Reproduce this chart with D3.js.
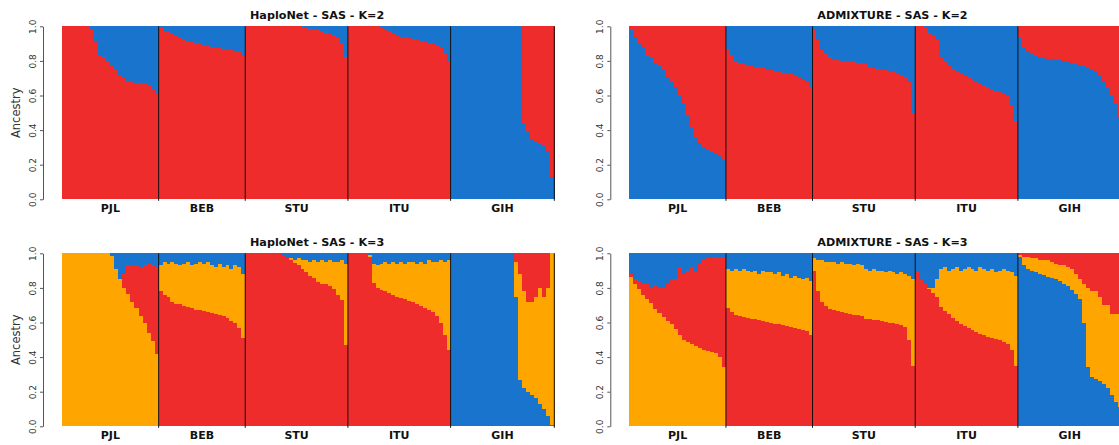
<!DOCTYPE html>
<html>
<head>
<meta charset="utf-8">
<script src="https://cdn.jsdelivr.net/npm/d3@7"></script>
<style>
  body { margin: 0; background: #fff; }
  text { font-family: "DejaVu Sans", sans-serif; }
</style>
</head>
<body>
<div id="chart"></div>
<script>
// populations and sample sizes (1000G SAS)
const pops = ["PJL", "BEB", "STU", "ITU", "GIH"];
const popSizes = [96, 86, 102, 102, 103];

const colors = { red: "#EE2C2C", blue: "#1874CD", orange: "#FFA500" };

// stacking order per population (bottom -> top)
const hapK2Order = [["red", "blue"], ["red", "blue"], ["red", "blue"], ["red", "blue"], ["blue", "red"]];
const admK2Order = [["blue", "red"], ["red", "blue"], ["red", "blue"], ["red", "blue"], ["blue", "red"]];
const k3Order = [["orange", "red", "blue"], ["red", "orange", "blue"], ["red", "orange", "blue"],
                 ["red", "orange", "blue"], ["blue", "orange", "red"]];

// ancestry of the bottom cluster (one value per group of ~4 individuals)
const hapK2Lower = [
  [1, 1, 1, 1, 1, 1, 1, 0.98, 0.91, 0.83, 0.82, 0.8, 0.77, 0.745, 0.72, 0.7, 0.685, 0.68, 0.675, 0.67, 0.665, 0.66, 0.64, 0.61],
  [0.99, 0.975, 0.965, 0.955, 0.945, 0.935, 0.925, 0.915, 0.91, 0.905, 0.9, 0.89, 0.885, 0.88, 0.877, 0.873, 0.87, 0.865, 0.862, 0.858, 0.852, 0.83],
  [1, 1, 1, 1, 1, 1, 1, 1, 1, 1, 1, 1, 1, 1, 0.995, 0.99, 0.987, 0.983, 0.978, 0.972, 0.962, 0.958, 0.95, 0.935, 0.905, 0.82],
  [1, 1, 1, 1, 1, 1, 1, 1, 0.99, 0.98, 0.97, 0.958, 0.945, 0.937, 0.932, 0.93, 0.927, 0.922, 0.917, 0.91, 0.905, 0.9, 0.893, 0.88, 0.845, 0.8],
  [1, 1, 1, 1, 1, 1, 1, 1, 1, 1, 1, 1, 1, 1, 1, 1, 1, 1, 0.44, 0.39, 0.35, 0.33, 0.32, 0.31, 0.28, 0.13]
];

const admK2Lower = [
  [0.98, 0.94, 0.905, 0.88, 0.83, 0.815, 0.79, 0.77, 0.746, 0.705, 0.68, 0.65, 0.6, 0.55, 0.49, 0.42, 0.355, 0.325, 0.3, 0.283, 0.272, 0.26, 0.248, 0.227],
  [0.87, 0.835, 0.795, 0.785, 0.78, 0.776, 0.772, 0.767, 0.762, 0.757, 0.75, 0.745, 0.74, 0.735, 0.731, 0.727, 0.722, 0.712, 0.703, 0.692, 0.68, 0.65],
  [0.98, 0.92, 0.865, 0.842, 0.82, 0.81, 0.803, 0.8, 0.8, 0.797, 0.795, 0.79, 0.786, 0.78, 0.767, 0.76, 0.755, 0.75, 0.745, 0.742, 0.735, 0.725, 0.718, 0.705, 0.68, 0.5],
  [1, 1, 0.995, 0.96, 0.945, 0.92, 0.82, 0.797, 0.775, 0.752, 0.737, 0.722, 0.715, 0.705, 0.692, 0.68, 0.668, 0.658, 0.65, 0.632, 0.625, 0.62, 0.61, 0.595, 0.54, 0.45],
  [0.93, 0.875, 0.855, 0.84, 0.83, 0.825, 0.82, 0.813, 0.81, 0.807, 0.803, 0.8, 0.797, 0.79, 0.783, 0.776, 0.77, 0.76, 0.75, 0.74, 0.72, 0.685, 0.645, 0.6, 0.555, 0.47]
];

const hapK3Lower = [
  [1, 1, 1, 1, 1, 1, 1, 1, 1, 1, 1, 1, 0.985, 0.91, 0.85, 0.8, 0.765, 0.72, 0.685, 0.64, 0.595, 0.54, 0.495, 0.42],
  [0.78, 0.757, 0.745, 0.72, 0.708, 0.705, 0.695, 0.69, 0.682, 0.675, 0.67, 0.665, 0.66, 0.653, 0.648, 0.643, 0.635, 0.625, 0.61, 0.595, 0.57, 0.51],
  [1, 1, 1, 1, 1, 1, 1, 1, 0.995, 0.985, 0.975, 0.96, 0.945, 0.93, 0.91, 0.89, 0.87, 0.855, 0.835, 0.823, 0.82, 0.81, 0.795, 0.76, 0.73, 0.47],
  [1, 1, 1, 1, 1, 0.98, 0.83, 0.8, 0.79, 0.78, 0.77, 0.758, 0.748, 0.74, 0.733, 0.722, 0.716, 0.707, 0.695, 0.685, 0.672, 0.66, 0.64, 0.6, 0.527, 0.44],
  [1, 1, 1, 1, 1, 1, 1, 1, 1, 1, 1, 1, 1, 1, 1, 1, 0.75, 0.27, 0.22, 0.2, 0.18, 0.165, 0.13, 0.1, 0.06, 0.01]
];
// ancestry of the top cluster (K=3)
const hapK3Upper = [
  [0, 0, 0, 0, 0, 0, 0, 0, 0, 0, 0, 0, 0.015, 0.09, 0.15, 0.12, 0.07, 0.07, 0.07, 0.08, 0.07, 0.06, 0.07, 0.08],
  [0.07, 0.05, 0.06, 0.05, 0.06, 0.07, 0.06, 0.05, 0.07, 0.06, 0.05, 0.06, 0.05, 0.07, 0.08, 0.06, 0.08, 0.07, 0.09, 0.07, 0.08, 0.12],
  [0, 0, 0, 0, 0, 0, 0, 0, 0.005, 0.02, 0.03, 0.03, 0.04, 0.03, 0.04, 0.04, 0.05, 0.04, 0.05, 0.04, 0.05, 0.04, 0.05, 0.05, 0.04, 0.06],
  [0, 0, 0, 0, 0, 0.01, 0.06, 0.07, 0.06, 0.05, 0.06, 0.05, 0.06, 0.05, 0.06, 0.05, 0.05, 0.06, 0.05, 0.06, 0.04, 0.05, 0.05, 0.04, 0.05, 0.04],
  [0, 0, 0, 0, 0, 0, 0, 0, 0, 0, 0, 0, 0, 0, 0, 0, 0.05, 0.12, 0.22, 0.28, 0.28, 0.25, 0.2, 0.25, 0.2, 0]
];

const admK3Lower = [
  [0.865, 0.825, 0.795, 0.76, 0.737, 0.715, 0.68, 0.657, 0.633, 0.61, 0.592, 0.565, 0.525, 0.498, 0.486, 0.476, 0.465, 0.452, 0.443, 0.437, 0.431, 0.425, 0.4, 0.345],
  [0.685, 0.66, 0.642, 0.638, 0.633, 0.628, 0.623, 0.619, 0.615, 0.611, 0.605, 0.6, 0.594, 0.589, 0.585, 0.58, 0.574, 0.568, 0.562, 0.556, 0.548, 0.53],
  [0.9, 0.78, 0.72, 0.697, 0.68, 0.672, 0.667, 0.662, 0.655, 0.65, 0.646, 0.643, 0.64, 0.62, 0.618, 0.615, 0.612, 0.608, 0.604, 0.6, 0.595, 0.59, 0.584, 0.575, 0.5, 0.35],
  [0.89, 0.85, 0.825, 0.795, 0.77, 0.745, 0.69, 0.665, 0.648, 0.625, 0.607, 0.592, 0.582, 0.57, 0.555, 0.545, 0.535, 0.527, 0.518, 0.51, 0.502, 0.496, 0.487, 0.475, 0.44, 0.35],
  [0.98, 0.93, 0.91, 0.9, 0.89, 0.883, 0.875, 0.865, 0.86, 0.85, 0.84, 0.825, 0.81, 0.79, 0.765, 0.735, 0.6, 0.34, 0.286, 0.274, 0.264, 0.245, 0.22, 0.18, 0.14, 0.11]
];
const admK3Upper = [
  [0.12, 0.15, 0.16, 0.18, 0.18, 0.2, 0.19, 0.2, 0.2, 0.18, 0.15, 0.15, 0.08, 0.12, 0.1, 0.08, 0.1, 0.06, 0.04, 0.03, 0.03, 0.02, 0.02, 0.02],
  [0.09, 0.1, 0.09, 0.1, 0.09, 0.1, 0.11, 0.1, 0.12, 0.1, 0.11, 0.11, 0.12, 0.11, 0.13, 0.12, 0.14, 0.13, 0.14, 0.15, 0.14, 0.16],
  [0.03, 0.04, 0.04, 0.05, 0.05, 0.05, 0.06, 0.05, 0.06, 0.06, 0.07, 0.06, 0.07, 0.09, 0.1, 0.09, 0.1, 0.1, 0.11, 0.1, 0.11, 0.12, 0.11, 0.12, 0.13, 0.15],
  [0.11, 0.15, 0.175, 0.2, 0.2, 0.15, 0.09, 0.08, 0.1, 0.09, 0.08, 0.1, 0.09, 0.08, 0.09, 0.1, 0.08, 0.09, 0.1, 0.09, 0.11, 0.1, 0.09, 0.1, 0.11, 0.13],
  [0.01, 0.02, 0.02, 0.03, 0.03, 0.04, 0.04, 0.04, 0.05, 0.06, 0.07, 0.07, 0.08, 0.09, 0.12, 0.15, 0.18, 0.2, 0.22, 0.22, 0.25, 0.3, 0.3, 0.35, 0.35, 0.35]
];

const yTicks = [0, 0.2, 0.4, 0.6, 0.8, 1.0];

const W = 1119, H = 445;
const PW = 492.3, PH = 173;

const svg = d3.select("#chart").append("svg")
  .attr("width", W).attr("height", H);

const panels = [
  { title: "HaploNet - SAS - K=2", left: 62, top: 26.3, lower: hapK2Lower, upper: null, order: hapK2Order, ylab: true },
  { title: "ADMIXTURE - SAS - K=2", left: 629.3, top: 26.3, lower: admK2Lower, upper: null, order: admK2Order, ylab: false },
  { title: "HaploNet - SAS - K=3", left: 62, top: 253.3, lower: hapK3Lower, upper: hapK3Upper, order: k3Order, ylab: true },
  { title: "ADMIXTURE - SAS - K=3", left: 629.3, top: 253.3, lower: admK3Lower, upper: admK3Upper, order: k3Order, ylab: false }
];

const total = d3.sum(popSizes);
const offsets = d3.cumsum([0].concat(popSizes)); // start of each pop, in individuals

panels.forEach(drawPanel);

function drawPanel(p) {
  const g = svg.append("g");
  const x = d3.scaleLinear().domain([0, total]).range([p.left, p.left + PW]);
  const y = d3.scaleLinear().domain([0, 1]).range([p.top + PH, p.top]);

  // build stacked segments: each drawn from 0 up to its cumulative top,
  // top cluster first so the lower ones paint over it (no seams)
  const segs = [];
  pops.forEach((pop, pi) => {
    const low = p.lower[pi];
    const n = low.length;
    const step = popSizes[pi] / n;
    low.forEach((v, j) => {
      let parts;
      if (p.upper) {
        const up = p.upper[pi][j];
        parts = [v, Math.max(0, 1 - v - up), up];
      } else {
        parts = [v, 1 - v];
      }
      const cum = d3.cumsum(parts);
      for (let k = parts.length - 1; k >= 0; k--) {
        if (parts[k] <= 0) continue;
        segs.push({
          i0: offsets[pi] + j * step,
          i1: offsets[pi] + (j + 1) * step,
          top: k === parts.length - 1 ? 1 : Math.min(1, cum[k]),
          color: colors[p.order[pi][k]]
        });
      }
    });
  });

  g.append("g").attr("shape-rendering", "crispEdges")
    .selectAll("rect").data(segs).join("rect")
    .attr("x", d => x(d.i0))
    .attr("width", d => x(d.i1) - x(d.i0) + 1)
    .attr("y", d => y(d.top))
    .attr("height", d => y(0) - y(d.top))
    .attr("fill", d => d.color);

  // population separators
  g.selectAll("line.sep").data(offsets.slice(1)).join("line")
    .attr("class", "sep")
    .attr("x1", d => x(d)).attr("x2", d => x(d))
    .attr("y1", y(1)).attr("y2", y(0) + 1.5)
    .attr("stroke", "#111").attr("stroke-width", 1);

  // y axis
  const ax = g.append("g")
    .attr("transform", `translate(${p.left - 19},0)`)
    .call(d3.axisLeft(y).tickValues(yTicks).tickSize(3).tickSizeOuter(0).tickFormat(d3.format(".1f")));
  ax.select(".domain").attr("stroke", "#555");
  ax.selectAll(".tick line").attr("stroke", "#555");
  ax.selectAll(".tick text")
    .attr("x", null).attr("dy", null)
    .attr("transform", "translate(-7,0) rotate(-90)")
    .attr("text-anchor", "middle")
    .attr("font-family", "DejaVu Sans")
    .attr("font-size", 9)
    .attr("fill", "#333");

  if (p.ylab) {
    g.append("text")
      .attr("transform", `translate(${p.left - 42},${(y(0) + y(1)) / 2}) rotate(-90)`)
      .attr("text-anchor", "middle")
      .attr("font-size", 11.5)
      .attr("fill", "#333")
      .text("Ancestry");
  }

  // population labels
  g.selectAll("text.pop").data(pops).join("text")
    .attr("class", "pop")
    .attr("x", (d, i) => x(offsets[i] + popSizes[i] / 2))
    .attr("y", y(0) + 12.7)
    .attr("text-anchor", "middle")
    .attr("font-weight", "bold")
    .attr("font-size", 11)
    .attr("fill", "#111")
    .text(d => d);

  // title
  g.append("text")
    .attr("x", p.left + 188)
    .attr("y", p.top - 7.3)
    .attr("font-weight", "bold")
    .attr("font-size", 11.2)
    .attr("fill", "#111")
    .text(p.title);
}
</script>
</body>
</html>
